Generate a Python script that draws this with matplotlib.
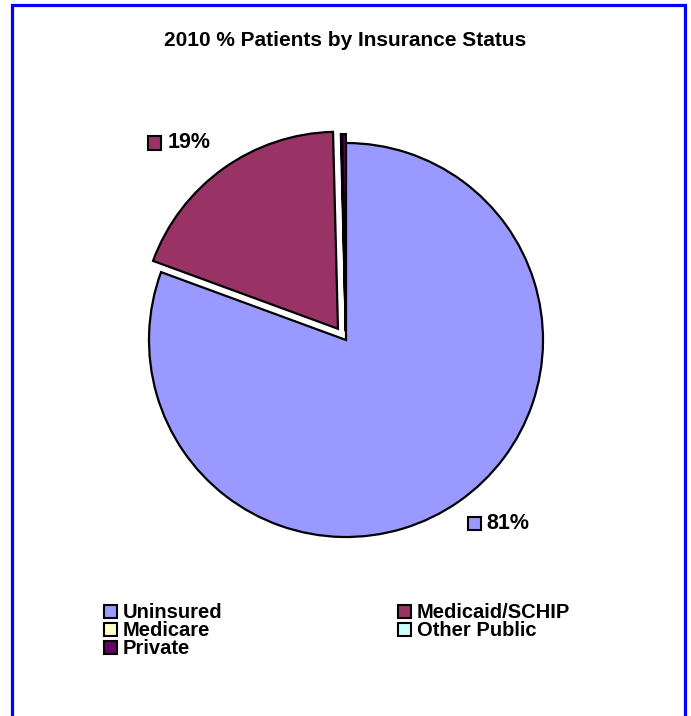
import matplotlib.pyplot as plt
from matplotlib.patches import Rectangle

plt.rcParams['font.family'] = ['Liberation Sans', 'DejaVu Sans']

# data
categories = ['Uninsured', 'Medicaid/SCHIP', 'Medicare', 'Other Public', 'Private']
shares = [80.6, 19.0, 0.05, 0.05, 0.3]
colors = ['#9999FF', '#993366', '#FFFFCC', '#CCFFFF', '#660066']
explode = [0.0, 0.07, 0.045, 0.045, 0.045]

W, H = 691, 716
fig = plt.figure(figsize=(W / 100, H / 100), dpi=100)

# blue frame around the chart
fig.patches.append(Rectangle((12 / W, -0.05), 673 / W, 1.05 - 5 / H,
                             transform=fig.transFigure, fill=False,
                             edgecolor='#0000FF', linewidth=2.3))

fig.text(0.5, 1 - 40 / H, '2010 % Patients by Insurance Status',
         ha='center', va='center', fontsize=15, fontweight='bold')

ax = fig.add_axes([106 / W, 136 / H, 480 / W, 480 / H])
wedges, _ = ax.pie(shares, colors=colors, startangle=90, counterclock=False,
                   explode=explode, radius=1.0,
                   wedgeprops=dict(edgecolor='black', linewidth=1.6))
ax.set_xlim(-240 / 197, 240 / 197)
ax.set_ylim(-240 / 197, 240 / 197)
ax.set_aspect('equal')
ax.axis('off')

# data labels with colour key
label_pos = {0: (0.65, -0.93), 1: (-0.97, 1.0)}
for i, (x, y) in label_pos.items():
    ax.add_patch(Rectangle((x - 0.033, y - 0.033), 0.066, 0.066,
                           facecolor=colors[i], edgecolor='black', linewidth=1.5,
                           clip_on=False))
    ax.text(x + 0.065, y, f'{round(shares[i])}%', ha='left', va='center',
            fontsize=15.5, fontweight='bold')

# legend: two columns, filled column by column
col_x = [110, 404]
row_y = [611, 629, 647]
order = [0, 2, 4, 1, 3]
for k, i in enumerate(order):
    cx = col_x[k // 3]
    cy = row_y[k % 3]
    fig.patches.append(Rectangle(((cx - 6.5) / W, 1 - (cy + 6.5) / H), 13 / W, 13 / H,
                                 transform=fig.transFigure, facecolor=colors[i],
                                 edgecolor='black', linewidth=1.5))
    fig.text((cx + 13) / W, 1 - (cy + 6.5) / H, categories[i], ha='left',
             va='baseline', fontsize=14.5, fontweight='bold')

fig.savefig('out.png', dpi=100)
